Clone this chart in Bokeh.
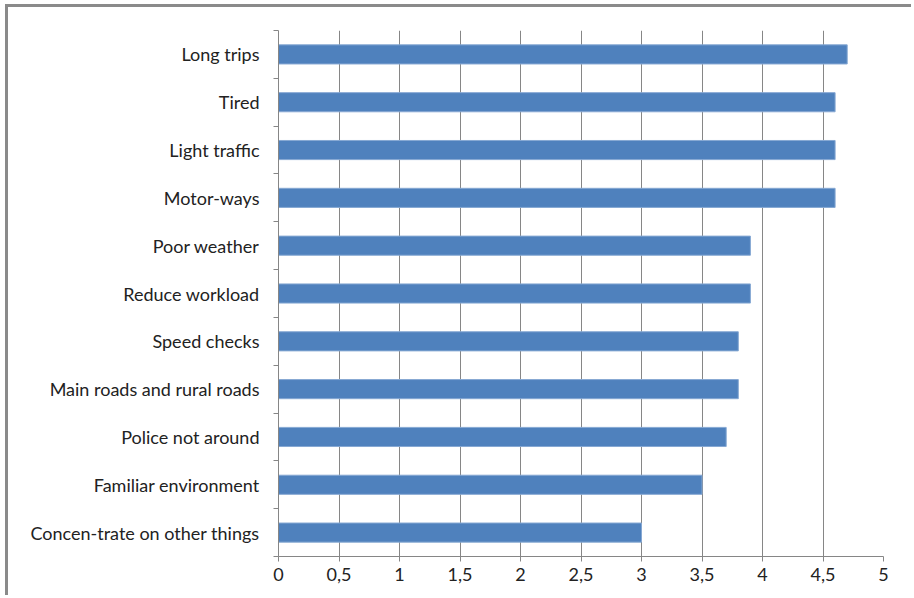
from bokeh.plotting import figure
from bokeh.models import FixedTicker, Range1d
from bokeh.embed import file_html
from bokeh.resources import INLINE

categories = ["Long trips", "Tired", "Light traffic", "Motor-ways", "Poor weather",
              "Reduce workload", "Speed checks", "Main roads and rural roads",
              "Police not around", "Familiar environment", "Concen-trate on other things"]
values = [4.7, 4.6, 4.6, 4.6, 3.9, 3.9, 3.8, 3.8, 3.7, 3.5, 3.0]
x_ticks = [0, 0.5, 1, 1.5, 2, 2.5, 3, 3.5, 4, 4.5, 5]
x_tick_labels = ["0", "0,5", "1", "1,5", "2", "2,5", "3", "3,5", "4", "4,5", "5"]

n = len(categories)
ypos = [n - i - 0.5 for i in range(n)]

W, H = 906, 591
p = figure(width=W, height=H, output_backend="svg", toolbar_location=None,
           x_range=Range1d(0, 5), y_range=Range1d(0, n),
           min_border_left=270, min_border_right=31, min_border_top=23, min_border_bottom=42,
           margin=(4, 0, 0, 5),
           styles={"border-left": "3px solid #8a8a8a", "border-top": "3px solid #8a8a8a"})
p.outline_line_color = None
p.background_fill_color = "white"
p.border_fill_color = "white"

p.hbar(y=ypos, right=values, left=0, height=0.4, fill_color="#4F81BD",
       line_color="#86a8d3", line_width=1)

FONT = "Lato"
FS = "18px"
p.xaxis.ticker = FixedTicker(ticks=x_ticks)
p.xaxis.major_label_overrides = {t: l for t, l in zip(x_ticks, x_tick_labels)}
p.xaxis.axis_line_color = "#868686"
p.xaxis.major_tick_line_color = "#868686"
p.xaxis.major_tick_out = 5
p.xaxis.major_tick_in = 0
p.xaxis.minor_tick_line_color = None
p.xaxis.major_label_standoff = 6
p.xaxis.major_label_text_font = FONT
p.xaxis.major_label_text_font_size = FS
p.xaxis.major_label_text_color = "#222222"

p.yaxis.ticker = FixedTicker(ticks=ypos, minor_ticks=list(range(n + 1)))
p.yaxis.major_label_overrides = {y: c for y, c in zip(ypos, categories)}
p.yaxis.axis_line_color = "#868686"
p.yaxis.major_tick_line_color = None
p.yaxis.major_tick_out = 0
p.yaxis.major_tick_in = 0
p.yaxis.minor_tick_line_color = "#868686"
p.yaxis.minor_tick_out = 5
p.yaxis.minor_tick_in = 0
p.yaxis.major_label_standoff = 14
p.yaxis.major_label_text_font = FONT
p.yaxis.major_label_text_font_size = FS
p.yaxis.major_label_text_color = "#222222"

p.xgrid.ticker = FixedTicker(ticks=x_ticks)
p.xgrid.grid_line_color = "#868686"
p.ygrid.grid_line_color = None

open("out.html", "w").write(file_html(p, INLINE))
